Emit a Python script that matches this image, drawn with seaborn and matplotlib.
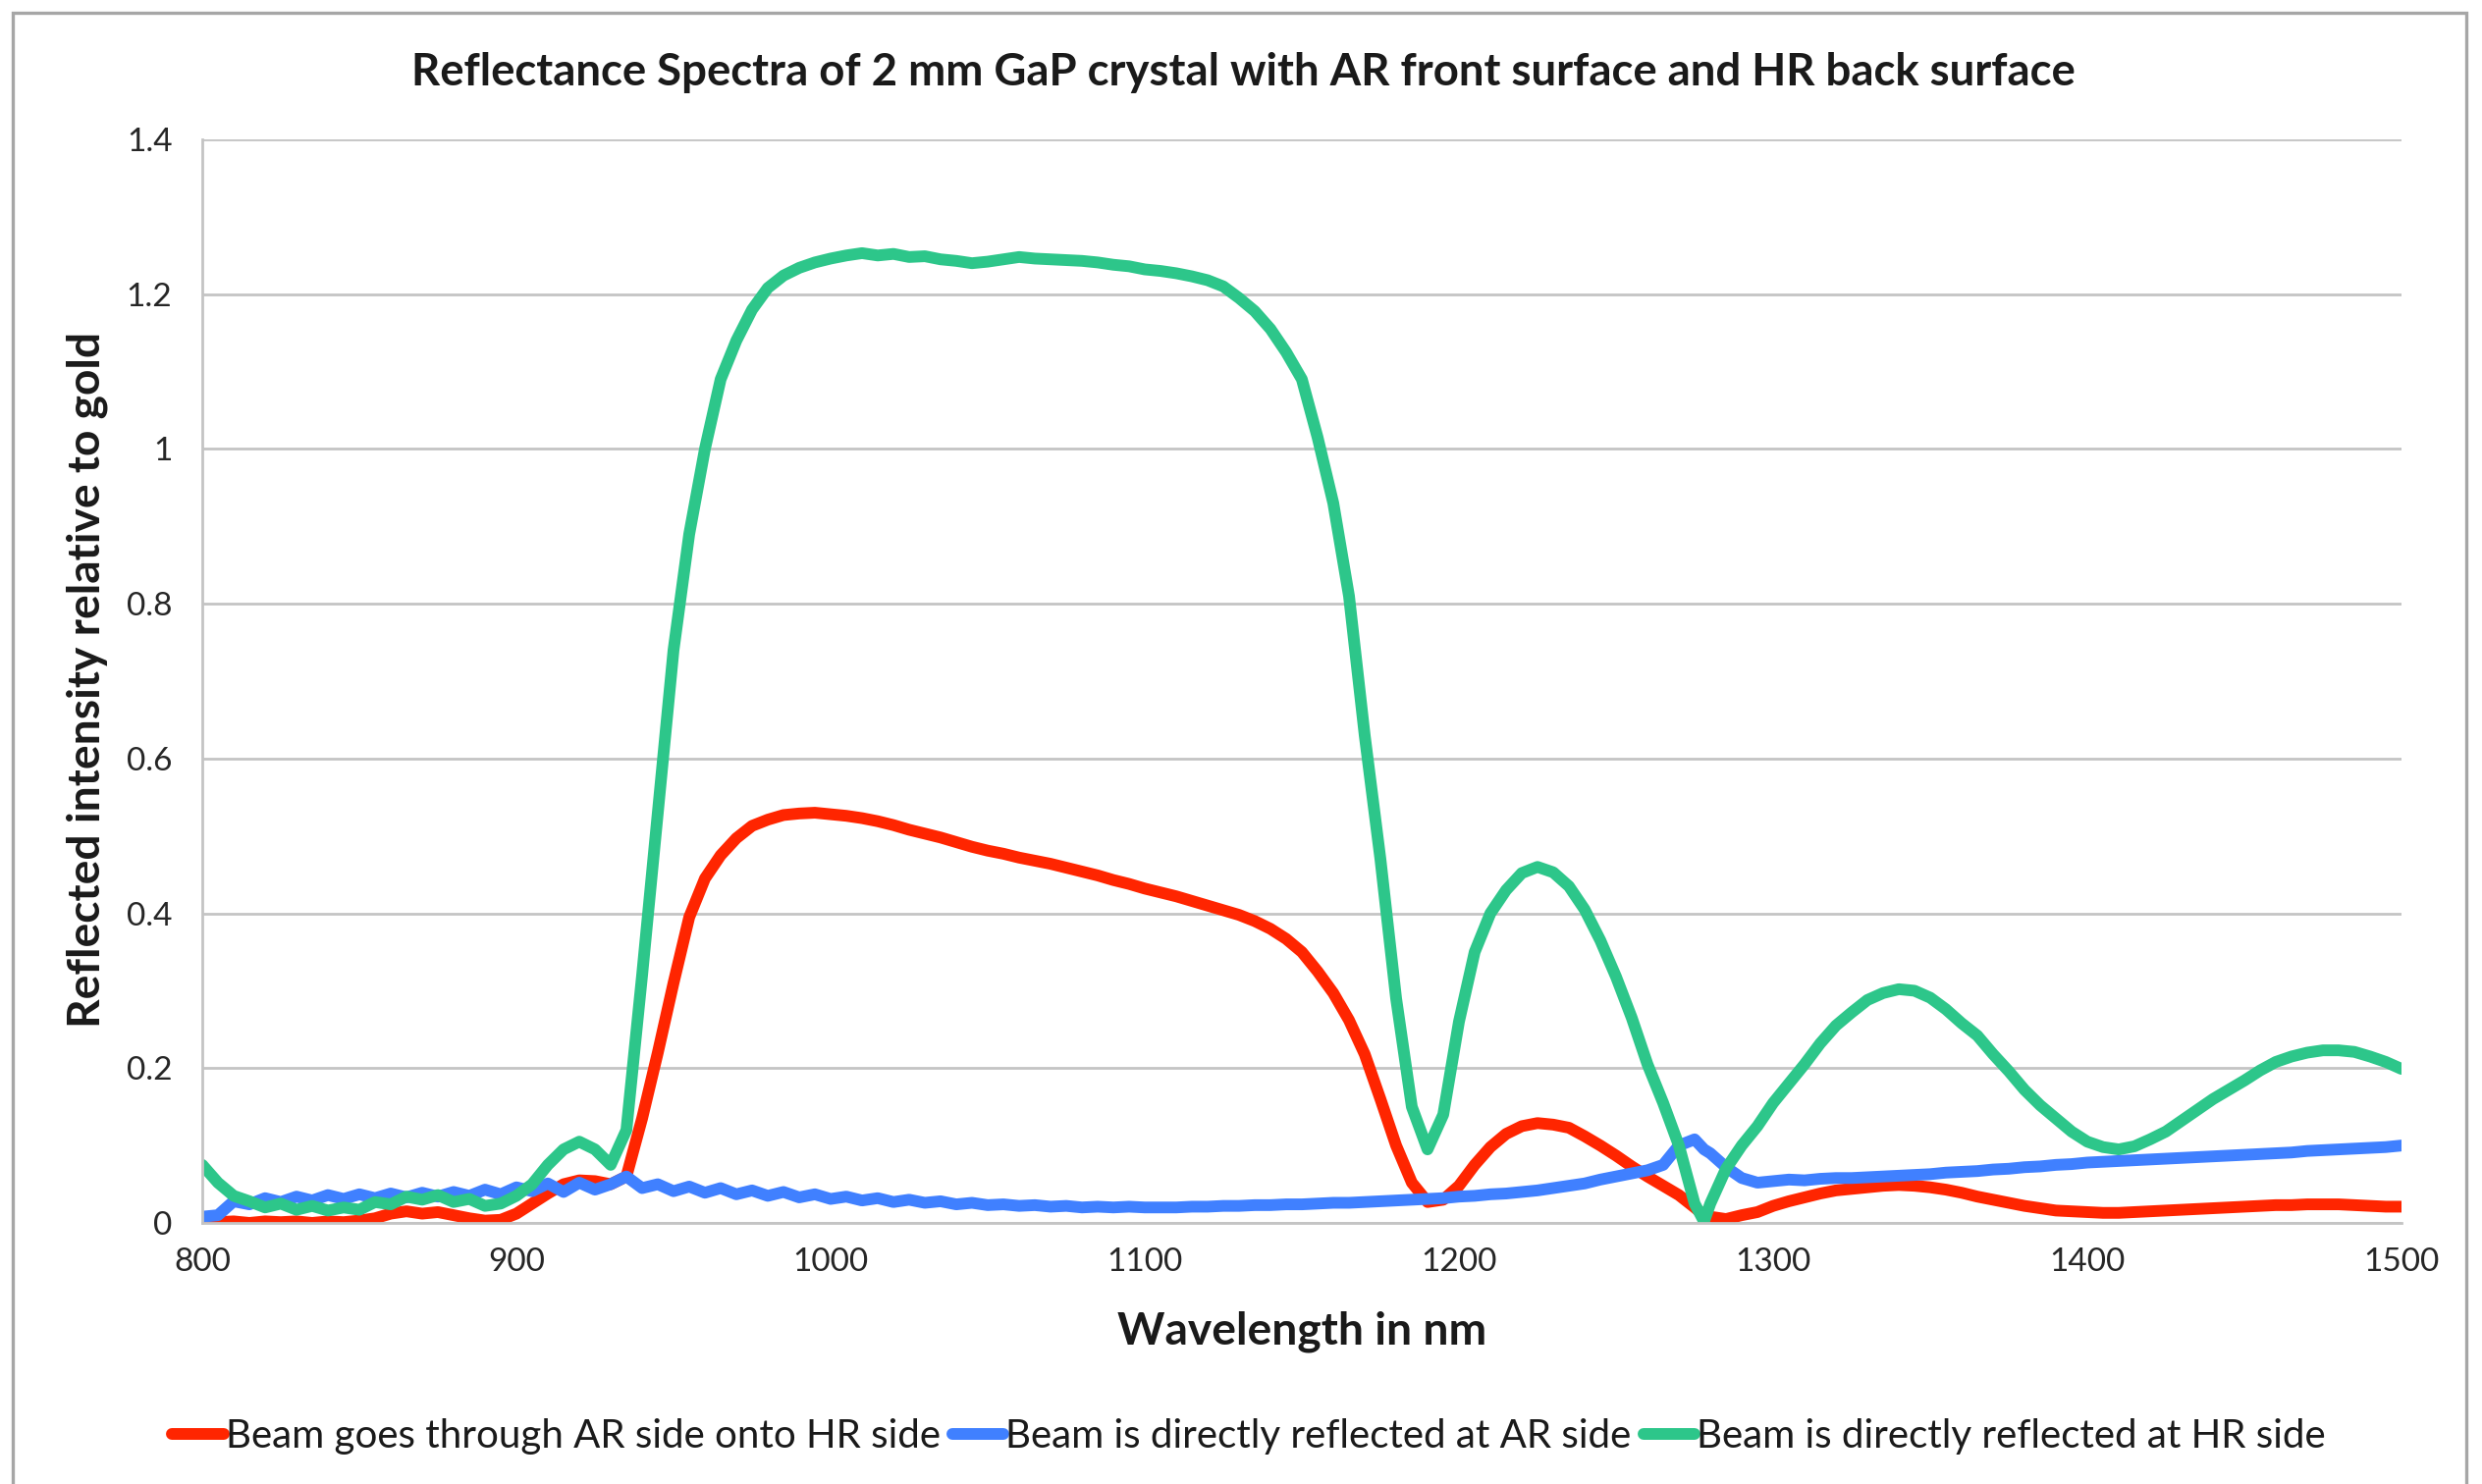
import numpy as np
import pandas as pd
import matplotlib
matplotlib.use("Agg")
import matplotlib.pyplot as plt
from matplotlib.lines import Line2D
from matplotlib.patches import Rectangle
import seaborn as sns

# ---------------- data ----------------
wavelength = [800, 805, 810, 815, 820, 825, 830, 835, 840, 845, 850, 855, 860, 865, 870, 875,
              880, 885, 890, 895, 900, 905, 910, 915, 920, 925, 930, 935, 940, 945, 950, 955,
              960, 965, 970, 975, 980, 985, 990, 995, 1000, 1005, 1010, 1015, 1020, 1025, 1030,
              1035, 1040, 1045, 1050, 1055, 1060, 1065, 1070, 1075, 1080, 1085, 1090, 1095, 1100,
              1105, 1110, 1115, 1120, 1125, 1130, 1135, 1140, 1145, 1150, 1155, 1160, 1165, 1170,
              1175, 1180, 1185, 1190, 1195, 1200, 1205, 1210, 1215, 1220, 1225, 1230, 1235, 1240,
              1245, 1250, 1255, 1260, 1265, 1270, 1275, 1278, 1280, 1285, 1290, 1295, 1300, 1305,
              1310, 1315, 1320, 1325, 1330, 1335, 1340, 1345, 1350, 1355, 1360, 1365, 1370, 1375,
              1380, 1385, 1390, 1395, 1400, 1405, 1410, 1415, 1420, 1425, 1430, 1435, 1440, 1445,
              1450, 1455, 1460, 1465, 1470, 1475, 1480, 1485, 1490, 1495, 1500]

through_ar = [0.002, 0.001, 0.002, 0.000, 0.002, 0.001, 0.002, 0.000, 0.002, 0.001, 0.003, 0.006,
              0.012, 0.015, 0.012, 0.014, 0.010, 0.006, 0.003, 0.004, 0.012, 0.025, 0.038, 0.050,
              0.055, 0.054, 0.050, 0.060, 0.135, 0.220, 0.310, 0.395, 0.445, 0.475, 0.497, 0.513,
              0.521, 0.527, 0.529, 0.530, 0.528, 0.526, 0.523, 0.519, 0.514, 0.508, 0.503, 0.498,
              0.492, 0.486, 0.481, 0.477, 0.472, 0.468, 0.464, 0.459, 0.454, 0.449, 0.443, 0.438,
              0.432, 0.427, 0.422, 0.416, 0.410, 0.404, 0.398, 0.390, 0.380, 0.367, 0.350, 0.325,
              0.297, 0.262, 0.218, 0.160, 0.100, 0.052, 0.027, 0.030, 0.048, 0.075, 0.098, 0.115,
              0.125, 0.129, 0.127, 0.123, 0.112, 0.100, 0.087, 0.073, 0.060, 0.048, 0.036, 0.020,
              0.010, 0.008, 0.005, 0.010, 0.014, 0.022, 0.028, 0.033, 0.038, 0.042, 0.044, 0.046,
              0.048, 0.049, 0.048, 0.046, 0.043, 0.039, 0.034, 0.030, 0.026, 0.022, 0.019, 0.016,
              0.015, 0.014, 0.013, 0.013, 0.014, 0.015, 0.016, 0.017, 0.018, 0.019, 0.020, 0.021,
              0.022, 0.023, 0.023, 0.024, 0.024, 0.024, 0.023, 0.022, 0.021, 0.021]

direct_ar = [0.008, 0.010, 0.028, 0.024, 0.032, 0.027, 0.034, 0.029, 0.036, 0.031, 0.037, 0.032,
             0.038, 0.033, 0.039, 0.034, 0.040, 0.035, 0.043, 0.037, 0.046, 0.041, 0.051, 0.040,
             0.052, 0.043, 0.050, 0.060, 0.045, 0.050, 0.041, 0.047, 0.039, 0.045, 0.037, 0.042,
             0.035, 0.040, 0.033, 0.037, 0.031, 0.034, 0.029, 0.032, 0.027, 0.030, 0.026, 0.028,
             0.024, 0.026, 0.023, 0.024, 0.022, 0.023, 0.021, 0.022, 0.020, 0.021, 0.020, 0.021,
             0.020, 0.020, 0.020, 0.021, 0.021, 0.022, 0.022, 0.023, 0.023, 0.024, 0.024, 0.025,
             0.026, 0.026, 0.027, 0.028, 0.029, 0.030, 0.031, 0.032, 0.034, 0.035, 0.037, 0.038,
             0.040, 0.042, 0.045, 0.048, 0.051, 0.056, 0.060, 0.064, 0.068, 0.075, 0.100, 0.108,
             0.095, 0.090, 0.072, 0.058, 0.052, 0.054, 0.056, 0.055, 0.057, 0.058, 0.058, 0.059,
             0.060, 0.061, 0.062, 0.063, 0.065, 0.066, 0.067, 0.069, 0.070, 0.072, 0.073, 0.075,
             0.076, 0.078, 0.079, 0.080, 0.081, 0.082, 0.083, 0.084, 0.085, 0.086, 0.087, 0.088,
             0.089, 0.090, 0.091, 0.093, 0.094, 0.095, 0.096, 0.097, 0.098, 0.100]

direct_hr = [0.075, 0.052, 0.035, 0.028, 0.020, 0.025, 0.017, 0.022, 0.016, 0.020, 0.017, 0.027,
             0.024, 0.034, 0.030, 0.036, 0.027, 0.031, 0.022, 0.025, 0.035, 0.050, 0.075, 0.095,
             0.105, 0.095, 0.075, 0.120, 0.320, 0.530, 0.740, 0.890, 1.000, 1.090, 1.140, 1.180,
             1.208, 1.224, 1.234, 1.241, 1.246, 1.250, 1.253, 1.250, 1.252, 1.248, 1.249, 1.245,
             1.243, 1.240, 1.242, 1.245, 1.248, 1.246, 1.245, 1.244, 1.243, 1.241, 1.238, 1.236,
             1.232, 1.230, 1.227, 1.223, 1.218, 1.210, 1.195, 1.178, 1.155, 1.125, 1.090, 1.015,
             0.930, 0.810, 0.630, 0.470, 0.290, 0.150, 0.095, 0.140, 0.260, 0.350, 0.400, 0.430,
             0.452, 0.460, 0.453, 0.435, 0.405, 0.365, 0.318, 0.265, 0.205, 0.155, 0.100, 0.025,
             0.002, 0.025, 0.070, 0.100, 0.125, 0.155, 0.180, 0.205, 0.232, 0.255, 0.272, 0.288,
             0.297, 0.302, 0.300, 0.291, 0.276, 0.258, 0.242, 0.218, 0.196, 0.172, 0.152, 0.135,
             0.118, 0.105, 0.098, 0.095, 0.099, 0.108, 0.118, 0.132, 0.146, 0.160, 0.172, 0.184,
             0.197, 0.208, 0.215, 0.220, 0.223, 0.223, 0.221, 0.215, 0.208, 0.199]

series_names = ["Beam goes through AR side onto HR side",
                "Beam is directly reflected at AR side",
                "Beam is directly reflected at HR side"]
series_colors = ["#FF2500", "#4080FF", "#2DC68A"]

y_ticks = [0, 0.2, 0.4, 0.6, 0.8, 1.0, 1.2, 1.4]
y_tick_labels = ["0", "0.2", "0.4", "0.6", "0.8", "1", "1.2", "1.4"]
x_ticks = [800, 900, 1000, 1100, 1200, 1300, 1400, 1500]

title = "Reflectance Spectra of 2 mm GaP crystal with AR front surface and HR back surface"
x_label = "Wavelength in nm"
y_label = "Reflected intensity relative to gold"

# ---------------- build long-form table ----------------
frames = []
for name, vals in zip(series_names, [through_ar, direct_ar, direct_hr]):
    frames.append(pd.DataFrame({"wavelength": wavelength, "value": vals, "series": name}))
df = pd.concat(frames, ignore_index=True)

# ---------------- style ----------------
sns.set_style("white")
plt.rcParams["font.family"] = ["Lato", "DejaVu Sans"]

W, H, DPI = 2528, 1512, 200
fig = plt.figure(figsize=(W / DPI, H / DPI), dpi=DPI)
fig.patch.set_facecolor("white")

ax = fig.add_axes([206 / W, 1 - 1246 / H, (2446 - 206) / W, (1246 - 142) / H])

LW = 4.3
sns.lineplot(data=df, x="wavelength", y="value", hue="series", hue_order=series_names,
             palette=series_colors, estimator=None, sort=False, linewidth=LW,
             legend=False, ax=ax)
for ln in ax.get_lines():
    ln.set_solid_joinstyle("round")
    ln.set_solid_capstyle("round")

ax.set_xlim(800, 1500)
ax.set_ylim(0, 1.4)
ax.set_xticks(x_ticks)
ax.set_xticklabels([str(t) for t in x_ticks])
ax.set_yticks(y_ticks)
ax.set_yticklabels(y_tick_labels)
ax.tick_params(axis="both", length=0, labelsize=12, colors="#262626")
ax.tick_params(axis="x", pad=9)
ax.tick_params(axis="y", pad=11)
ax.set_xlabel("")
ax.set_ylabel("")

ax.yaxis.grid(True, color="#C4C4C4", linewidth=1.0)
ax.set_axisbelow(True)
for side in ["top", "right"]:
    ax.spines[side].set_visible(False)
for side in ["left", "bottom"]:
    ax.spines[side].set_color("#C4C4C4")
    ax.spines[side].set_linewidth(1.0)

# titles & labels
fig.text(1266 / W, 1 - 74 / H, title, ha="center", va="center",
         fontsize=16.4, fontweight="bold", color="#1a1a1a")
fig.text(1326 / W, 1 - 1357 / H, x_label, ha="center", va="center",
         fontsize=16.6, fontweight="bold", color="#1a1a1a")
fig.text(89 / W, 1 - 692 / H, y_label, ha="center", va="center", rotation=90,
         fontsize=16.6, fontweight="bold", color="#1a1a1a")

# legend
handles = [Line2D([0], [0], color=c, linewidth=LW) for c in series_colors]
leg = fig.legend(handles, series_names, loc="center", bbox_to_anchor=(1272 / W, 1 - 1464 / H),
                 ncol=3, frameon=False, fontsize=14.5, handlelength=1.3, handletextpad=0.05,
                 columnspacing=0.3)
for t in leg.get_texts():
    t.set_color("#1a1a1a")

# outer chart border
fig.patches.append(Rectangle((13 / W, -0.05), (2512 - 13) / W, 1.05 - 13 / H,
                             transform=fig.transFigure, fill=False,
                             edgecolor="#A6A6A6", linewidth=1.2))

fig.savefig("out.png", dpi=DPI)
